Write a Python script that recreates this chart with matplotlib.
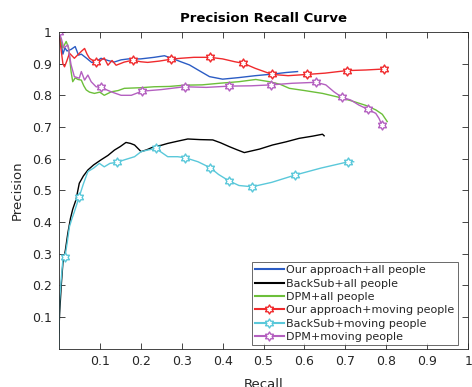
import numpy as np
import matplotlib
matplotlib.use('Agg')
import matplotlib.pyplot as plt
from matplotlib.path import Path
from matplotlib.lines import Line2D

# --- data ---
blue_r = [0, 0.005, 0.01, 0.015, 0.02, 0.03, 0.04, 0.048, 0.055, 0.068, 0.08, 0.09, 0.103,
          0.12, 0.135, 0.152, 0.17, 0.2, 0.233, 0.258, 0.28, 0.298, 0.319, 0.34, 0.368,
          0.40, 0.44, 0.48, 0.522, 0.555, 0.583]
blue_p = [1.0, 0.97, 0.93, 0.95, 0.94, 0.945, 0.954, 0.927, 0.93, 0.917, 0.904, 0.905, 0.917,
          0.91, 0.905, 0.912, 0.915, 0.915, 0.92, 0.925, 0.915, 0.906, 0.896, 0.88, 0.859,
          0.851, 0.856, 0.862, 0.867, 0.872, 0.875]

black_r = [0, 0.002, 0.006, 0.01, 0.016, 0.022, 0.0285, 0.034, 0.042, 0.05, 0.06, 0.071, 0.085,
           0.103, 0.12, 0.136, 0.15, 0.164, 0.175, 0.185, 0.201, 0.215, 0.233, 0.25, 0.266,
           0.29, 0.315, 0.345, 0.376, 0.395, 0.416, 0.435, 0.453, 0.49, 0.522, 0.555, 0.587,
           0.62, 0.644, 0.648]
black_p = [0.05, 0.11, 0.2, 0.27, 0.31, 0.364, 0.411, 0.44, 0.47, 0.522, 0.545, 0.564, 0.58,
           0.596, 0.61, 0.627, 0.638, 0.651, 0.648, 0.643, 0.622, 0.628, 0.638, 0.642, 0.648,
           0.655, 0.662, 0.66, 0.659, 0.65, 0.638, 0.628, 0.619, 0.63, 0.643, 0.653, 0.664,
           0.671, 0.677, 0.672]

green_r = [0, 0.005, 0.01, 0.018, 0.024, 0.03, 0.034, 0.04, 0.047, 0.055, 0.061, 0.067, 0.075,
           0.087, 0.1, 0.111, 0.128, 0.145, 0.16, 0.2, 0.233, 0.27, 0.307, 0.35, 0.392, 0.44,
           0.481, 0.514, 0.54, 0.563, 0.6, 0.644, 0.68, 0.716, 0.75, 0.774, 0.79, 0.802]
green_p = [1.0, 0.97, 0.95, 0.97, 0.95, 0.875, 0.843, 0.855, 0.85, 0.848, 0.83, 0.817, 0.81,
           0.806, 0.81, 0.80, 0.811, 0.815, 0.822, 0.824, 0.827, 0.828, 0.832, 0.833, 0.838,
           0.843, 0.85, 0.843, 0.835, 0.822, 0.815, 0.806, 0.795, 0.782, 0.768, 0.754, 0.74,
           0.717]

red_r = [0, 0.005, 0.01, 0.014, 0.02, 0.026, 0.032, 0.038, 0.048, 0.056, 0.063, 0.069, 0.075,
         0.083, 0.091, 0.1, 0.111, 0.12, 0.13, 0.14, 0.16, 0.181, 0.2, 0.217, 0.245, 0.274,
         0.298, 0.33, 0.369, 0.4, 0.43, 0.451, 0.48, 0.521, 0.56, 0.607, 0.65, 0.703, 0.75,
         0.793]
red_p = [1.0, 0.95, 0.9, 0.89, 0.91, 0.933, 0.925, 0.917, 0.93, 0.94, 0.948, 0.93, 0.917,
         0.91, 0.904, 0.908, 0.918, 0.895, 0.91, 0.895, 0.905, 0.911, 0.906, 0.904, 0.908,
         0.914, 0.917, 0.92, 0.92, 0.915, 0.906, 0.901, 0.885, 0.866, 0.862, 0.866, 0.87,
         0.878, 0.88, 0.883]
red_mark_r = [0.091, 0.181, 0.274, 0.369, 0.451, 0.521, 0.607, 0.703, 0.793]
red_mark_p = [0.904, 0.911, 0.914, 0.920, 0.901, 0.866, 0.866, 0.878, 0.883]

cyan_r = [0, 0.002, 0.006, 0.01, 0.015, 0.02, 0.026, 0.032, 0.038, 0.05, 0.06, 0.071, 0.085,
          0.099, 0.111, 0.125, 0.141, 0.16, 0.185, 0.201, 0.217, 0.237, 0.266, 0.29, 0.308,
          0.34, 0.37, 0.39, 0.415, 0.44, 0.472, 0.52, 0.577, 0.64, 0.707, 0.72]
cyan_p = [0, 0.15, 0.22, 0.28, 0.29, 0.33, 0.385, 0.41, 0.432, 0.48, 0.52, 0.559, 0.57,
          0.585, 0.574, 0.585, 0.588, 0.596, 0.606, 0.622, 0.627, 0.632, 0.606, 0.606, 0.603,
          0.59, 0.571, 0.55, 0.53, 0.515, 0.511, 0.525, 0.548, 0.57, 0.59, 0.59]
cyan_mark_r = [0.015, 0.05, 0.141, 0.237, 0.308, 0.37, 0.415, 0.472, 0.577, 0.707]
cyan_mark_p = [0.29, 0.48, 0.588, 0.632, 0.603, 0.571, 0.53, 0.511, 0.548, 0.59]

purple_r = [0, 0.006, 0.012, 0.022, 0.03, 0.038, 0.05, 0.055, 0.063, 0.071, 0.079, 0.091,
            0.103, 0.128, 0.152, 0.177, 0.203, 0.25, 0.307, 0.36, 0.416, 0.47, 0.519, 0.57,
            0.628, 0.652, 0.672, 0.691, 0.713, 0.733, 0.754, 0.774, 0.782, 0.789]
purple_p = [1.0, 0.98, 0.95, 0.959, 0.896, 0.859, 0.854, 0.875, 0.848, 0.864, 0.843, 0.827,
            0.825, 0.811, 0.80, 0.80, 0.813, 0.818, 0.827, 0.825, 0.829, 0.83, 0.833, 0.838,
            0.841, 0.833, 0.811, 0.794, 0.785, 0.769, 0.756, 0.743, 0.727, 0.706]
purple_mark_r = [0, 0.103, 0.203, 0.307, 0.416, 0.519, 0.628, 0.691, 0.754, 0.789]
purple_mark_p = [1.0, 0.825, 0.813, 0.827, 0.829, 0.833, 0.841, 0.794, 0.756, 0.706]

labels = ['Our approach+all people', 'BackSub+all people', 'DPM+all people',
          'Our approach+moving people', 'BackSub+moving people', 'DPM+moving people']

BLUE = '#2b5cc4'
BLACK = '#000000'
GREEN = '#6cbf3a'
RED = '#f02a2d'
CYAN = '#5ac8da'
PURPLE = '#b460c0'

# hexagram marker (MATLAB 'h')
ang = np.deg2rad(90 + 30 * np.arange(12))
rad = np.where(np.arange(12) % 2 == 0, 1.0, 0.58)
verts = np.column_stack([rad * np.cos(ang), rad * np.sin(ang)])
verts = np.vstack([verts, verts[:1]])
HEX = Path(verts, closed=True)

plt.rcParams['font.family'] = 'DejaVu Sans'

fig = plt.figure(figsize=(4.72, 3.87), dpi=100)
ax = fig.add_axes([58.8 / 472, 1 - 348.5 / 387, (468.3 - 58.8) / 472, (348.5 - 32) / 387])

lw = 1.0
ms = 6.5
ax.plot(blue_r, blue_p, color=BLUE, lw=lw)
ax.plot(black_r, black_p, color=BLACK, lw=lw)
ax.plot(green_r, green_p, color=GREEN, lw=lw)

for r, p, mr, mp, c in [(red_r, red_p, red_mark_r, red_mark_p, RED),
                        (cyan_r, cyan_p, cyan_mark_r, cyan_mark_p, CYAN),
                        (purple_r, purple_p, purple_mark_r, purple_mark_p, PURPLE)]:
    ax.plot(r, p, color=c, lw=lw)
    ax.plot(mr, mp, ls='none', marker=HEX, ms=ms, mfc='white', mec=c, mew=1.0)

handles = [Line2D([], [], color=BLUE, lw=1.5),
           Line2D([], [], color=BLACK, lw=1.5),
           Line2D([], [], color=GREEN, lw=1.5),
           Line2D([], [], color=RED, lw=1.5, marker=HEX, ms=ms, mfc='white', mec=RED),
           Line2D([], [], color=CYAN, lw=1.5, marker=HEX, ms=ms, mfc='white', mec=CYAN),
           Line2D([], [], color=PURPLE, lw=1.5, marker=HEX, ms=ms, mfc='white', mec=PURPLE)]

leg = ax.legend(handles, labels, loc='lower right', bbox_to_anchor=(0.974, 0.01),
                fontsize=8, frameon=True, fancybox=False, borderaxespad=0,
                labelspacing=0.3, handlelength=2.6, handletextpad=0.2,
                borderpad=0.3, labelcolor='#262626')
leg.get_frame().set_edgecolor('#262626')
leg.get_frame().set_linewidth(0.6)

ax.set_xlim(0, 1)
ax.set_ylim(0, 1)
ticks = [0.1, 0.2, 0.3, 0.4, 0.5, 0.6, 0.7, 0.8, 0.9, 1]
tick_labels = ['0.1', '0.2', '0.3', '0.4', '0.5', '0.6', '0.7', '0.8', '0.9', '1']
ax.set_xticks(ticks)
ax.set_xticklabels(tick_labels)
ax.set_yticks(ticks)
ax.set_yticklabels(tick_labels)
ax.tick_params(direction='in', top=True, right=True, length=4, width=0.6,
               labelsize=9, colors='#262626', pad=5)
for s in ax.spines.values():
    s.set_color('#262626')
    s.set_linewidth(0.6)

ax.set_title('Precision Recall Curve', fontsize=9.5, fontweight='bold', pad=7)
ax.set_xlabel('Recall', fontsize=9.5, color='#262626', labelpad=7)
ax.set_ylabel('Precision', fontsize=9.5, color='#262626', labelpad=6)

fig.savefig('out.png', dpi=100)
